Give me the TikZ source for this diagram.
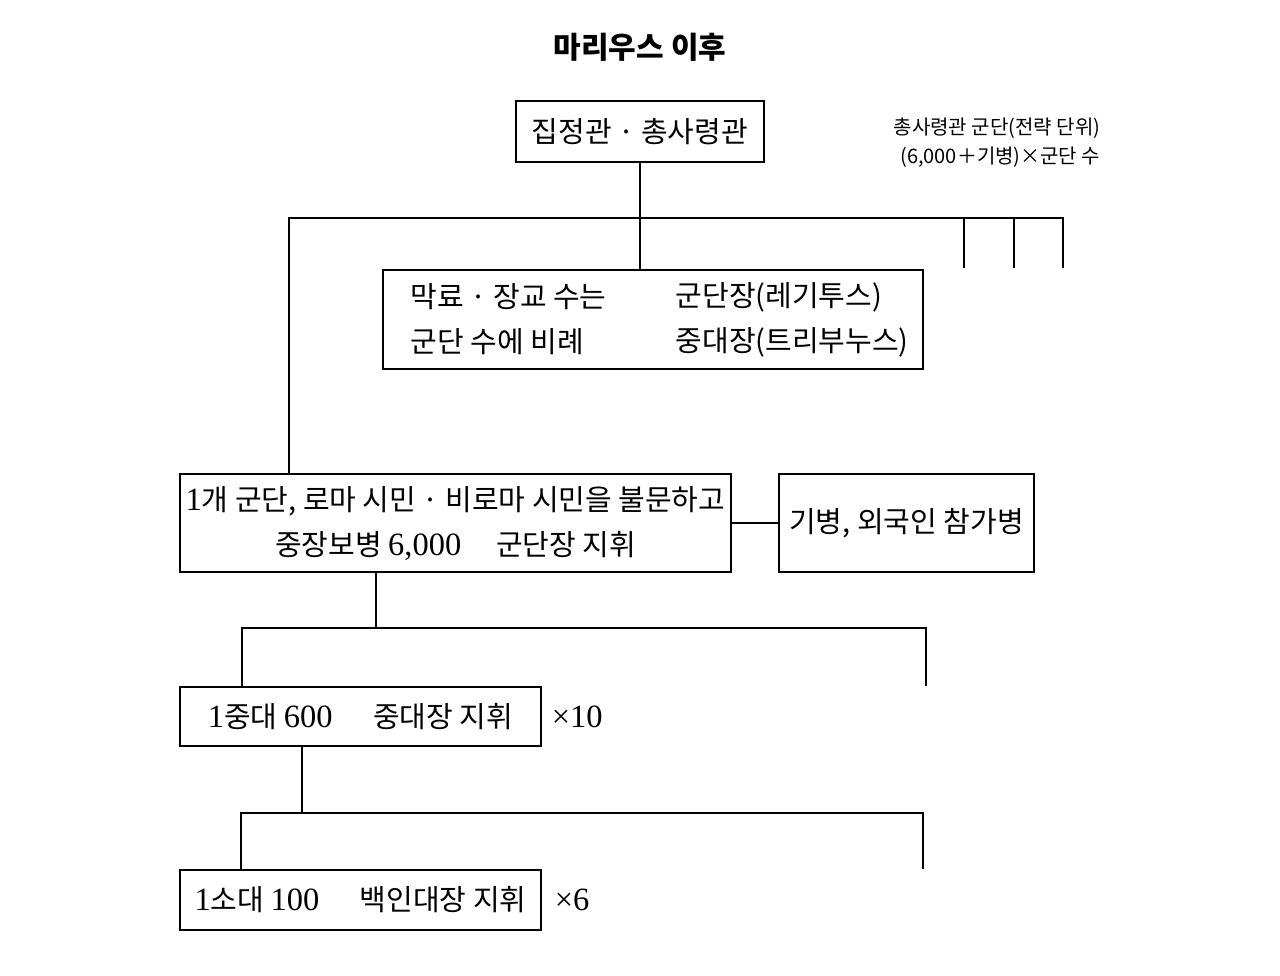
\documentclass[tikz,border=0pt]{standalone}
\usepackage{fontspec}
\setmainfont{Noto Sans CJK KR}
\newfontfamily\lat[Scale=1.12]{Liberation Serif}
\begin{document}
\begin{tikzpicture}[x=1pt,y=-1pt,line width=1.5pt,
  box/.style={draw,line width=1.5pt,inner sep=0pt,font=\fontsize{29}{45}\selectfont},
  btxt/.style={inner sep=0pt,font=\fontsize{29}{45}\selectfont},
  note/.style={inner sep=0pt,font=\fontsize{20}{24}\selectfont}]
\fill[white] (0,0) rectangle (1280,975);
\useasboundingbox (0,0) rectangle (1280,975);

% title
\node[inner sep=0pt,font=\fontsize{30}{34}\selectfont\bfseries] (title) at (640,47) {마리우스 이후};

% top-right note
\node[note,anchor=east] (tr1) at (1101,128) {총사령관 군단(전략 단위)};
\node[note,anchor=east] (tr2) at (1101,157) {(6,000＋기병)×군단 수};

% boxes
\node[box,minimum width=248pt,minimum height=61pt] (b1) at (640,131.5) {집정관 · 총사령관};
\node[box,minimum width=540pt,minimum height=99pt] (b2) at (653,319.5) {};
\node[btxt,anchor=west] (b2a) at (410,297) {막료 · 장교 수는};
\node[btxt,anchor=west] (b2b) at (410,342) {군단 수에 비례};
\node[btxt,anchor=west] (b2c) at (675,297) {군단장(레기투스)};
\node[btxt,anchor=west] (b2d) at (675,342) {중대장(트리부누스)};

\node[box,align=center,minimum width=551pt,minimum height=98pt] (b3) at (455.5,523)
  {{\lat 1}개 군단, 로마 시민 · 비로마 시민을 불문하고\\중장보병 {\lat 6,000}\hspace{1.2em}군단장 지휘};
\node[box,minimum width=255pt,minimum height=98pt] (b4) at (906.5,523) {기병, 외국인 참가병};

\node[box,minimum width=361pt,minimum height=59pt] (b5) at (360.5,716.5) {{\lat 1}중대 {\lat 600}\hspace{1.4em}중대장 지휘};
\node[btxt,anchor=west] (m10) at (551,716.5) {\lat ×10};

\node[box,minimum width=361pt,minimum height=60pt] (b6) at (360.5,900) {{\lat 1}소대 {\lat 100}\hspace{1.4em}백인대장 지휘};
\node[btxt,anchor=west] (m6) at (554,900) {\lat ×6};

% connectors: top level
\coordinate (busL) at (289,218);
\coordinate (busR) at (1063,218);
\coordinate (t1) at (964,218);
\coordinate (t1e) at (964,268);
\coordinate (t2) at (1014,218);
\coordinate (t2e) at (1014,268);
\coordinate (t3e) at (1063,268);
\draw (b1.south) -- (b1.south |- b2.north);
\draw (busL |- b3.north) -- (busL) -- (busR) -- (t3e);
\draw (t1) -- (t1e);
\draw (t2) -- (t2e);
\draw (b3.east) -- (b4.west);

% second level
\coordinate (j1) at (376,628);
\coordinate (j1L) at (242,628);
\coordinate (j1R) at (926,628);
\coordinate (j1e) at (926,686);
\draw (j1 |- b3.south) -- (j1);
\draw (j1L |- b5.north) -- (j1L) -- (j1R) -- (j1e);

% third level
\coordinate (j2) at (302,813);
\coordinate (j2L) at (241,813);
\coordinate (j2R) at (923,813);
\coordinate (j2e) at (923,869);
\draw (j2 |- b5.south) -- (j2);
\draw (j2L |- b6.north) -- (j2L) -- (j2R) -- (j2e);
\end{tikzpicture}
\end{document}
